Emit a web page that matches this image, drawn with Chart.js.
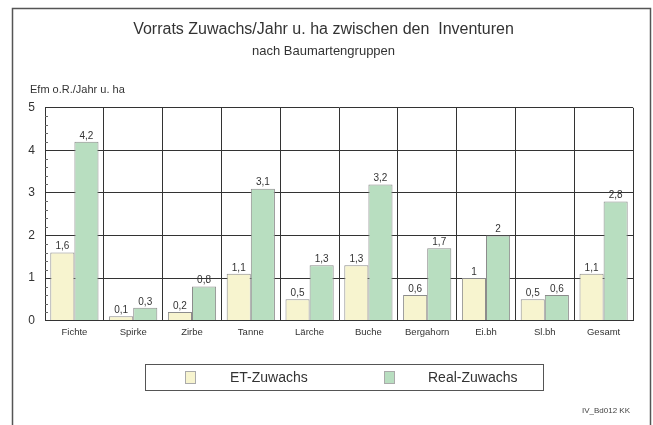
<!DOCTYPE html>
<html><head><meta charset="utf-8">
<script src="https://cdn.jsdelivr.net/npm/chart.js@4"></script>
<style>html,body{margin:0;padding:0;background:#fff}canvas{display:block}</style>
</head><body>
<canvas id="c" width="653" height="425"></canvas>
<script>
const categories = ["Fichte","Spirke","Zirbe","Tanne","Lärche","Buche","Bergahorn","Ei.bh","Sl.bh","Gesamt"];
const etZuwachs = [1.6, 0.1, 0.2, 1.1, 0.5, 1.3, 0.6, 1, 0.5, 1.1];
const realZuwachs = [4.2, 0.3, 0.8, 3.1, 1.3, 3.2, 1.7, 2, 0.6, 2.8];
const yTicks = [0,1,2,3,4,5];
const seriesNames = ["ET-Zuwachs","Real-Zuwachs"];
const titleText = "Vorrats Zuwachs/Jahr u. ha zwischen den  Inventuren";
const subtitleText = "nach Baumartengruppen";
const yAxisLabel = "Efm o.R./Jahr u. ha";
const footerText = "IV_Bd012 KK";

const fmt = v => String(v).replace('.', ',');
const FONT = "'Liberation Sans', Arial, sans-serif";

const deco = {
  id: 'deco',
  beforeDraw(chart) {
    const ctx = chart.ctx;
    ctx.save();
    ctx.fillStyle = '#fff';
    ctx.fillRect(0, 0, chart.width, chart.height);
    ctx.restore();
  },
  afterDraw(chart) {
    const ctx = chart.ctx;
    ctx.save();
    ctx.strokeStyle = '#555';
    ctx.lineWidth = 1.5;
    ctx.strokeRect(12.5, 8.5, 638, 430);
    ctx.fillStyle = '#333';
    ctx.font = "11px " + FONT;
    ctx.textAlign = 'left';
    ctx.textBaseline = 'middle';
    ctx.fillText(yAxisLabel, 30, 90);
    const ys = chart.scales.y;
    const xl = chart.chartArea.left;
    ctx.strokeStyle = '#666';
    ctx.lineWidth = 1;
    for (let i = 1; i < 25; i++) {
      const v = i * 0.2;
      if (Math.abs(v - Math.round(v)) < 1e-6) continue;
      const py = Math.round(ys.getPixelForValue(v)) + 0.5;
      ctx.beginPath(); ctx.moveTo(xl, py); ctx.lineTo(xl + 3, py); ctx.stroke();
    }
    ctx.fillStyle = '#333';
    ctx.font = "10px " + FONT;
    ctx.textAlign = 'center';
    ctx.textBaseline = 'bottom';
    chart.data.datasets.forEach((ds, di) => {
      const meta = chart.getDatasetMeta(di);
      meta.data.forEach((bar, i) => {
        ctx.fillText(fmt(ds.data[i]), bar.x, bar.y - 1);
      });
    });
    ctx.strokeStyle = '#555';
    ctx.lineWidth = 1;
    ctx.strokeRect(145.5, 364.5, 398, 26);
    ctx.font = "14px " + FONT;
    ctx.textAlign = 'left';
    ctx.textBaseline = 'middle';
    const items = [{bx:185, tx:230}, {bx:384, tx:428}];
    chart.data.datasets.forEach((ds, di) => {
      const it = items[di];
      ctx.fillStyle = ds.backgroundColor;
      ctx.fillRect(it.bx, 371, 10, 12);
      ctx.strokeStyle = '#aaa';
      ctx.strokeRect(it.bx + 0.5, 371.5, 10, 12);
      ctx.fillStyle = '#333';
      ctx.fillText(ds.label, it.tx, 378);
    });
    ctx.font = "8px " + FONT;
    ctx.fillStyle = '#444';
    ctx.textAlign = 'right';
    ctx.fillText(footerText, 630, 411);
    ctx.restore();
  }
};

new Chart(document.getElementById('c'), {
  type: 'bar',
  data: {
    labels: categories,
    datasets: [
      { label: seriesNames[0], data: etZuwachs, backgroundColor: '#f7f4cf', borderColor: '#8c8c8c', borderWidth: 1, borderSkipped: 'bottom' },
      { label: seriesNames[1], data: realZuwachs, backgroundColor: '#b8dec0', borderColor: '#8c8c8c', borderWidth: 1, borderSkipped: 'bottom' }
    ]
  },
  options: {
    responsive: false,
    animation: false,
    devicePixelRatio: 1,
    layout: { padding: { left: 14, right: 20, top: 0, bottom: 81 } },
    datasets: { bar: { categoryPercentage: 0.82, barPercentage: 1.0 } },
    plugins: {
      legend: { display: false },
      tooltip: { enabled: false },
      title: { display: true, text: titleText, color: '#333', font: { family: FONT, size: 16, weight: 'normal' }, padding: { top: 20, bottom: 4 } },
      subtitle: { display: true, text: subtitleText, color: '#333', font: { family: FONT, size: 13, weight: 'normal' }, padding: { top: 0, bottom: 49 } }
    },
    scales: {
      x: {
        grid: { color: '#333', lineWidth: 1, drawTicks: false, offset: true },
        border: { color: '#333' },
        ticks: { color: '#333', font: { family: FONT, size: 9.5 }, padding: 6, maxRotation: 0, autoSkip: false }
      },
      y: {
        min: 0, max: 5,
        afterBuildTicks(scale) { scale.ticks = yTicks.map(v => ({ value: v })); },
        afterFit(scale) { scale.width = 31; },
        grid: { color: '#333', lineWidth: 1, drawTicks: false },
        border: { color: '#333' },
        ticks: { color: '#333', font: { family: FONT, size: 12 }, padding: 10 }
      }
    }
  },
  plugins: [deco]
});
</script>
</body></html>
